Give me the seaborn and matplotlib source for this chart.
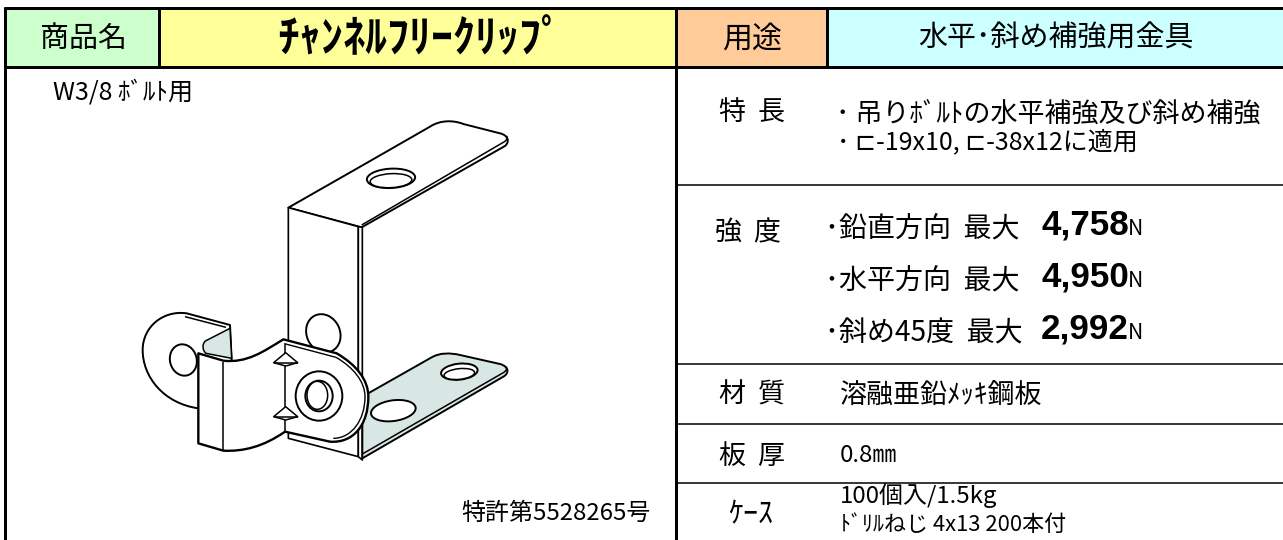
import matplotlib
matplotlib.use('Agg')
import matplotlib.pyplot as plt
import seaborn as sns
from matplotlib.patches import Rectangle, Ellipse, PathPatch
from matplotlib.path import Path

FONT = ['Noto Sans CJK JP', 'DejaVu Sans']

header_labels = ['商品名', 'ﾁｬﾝﾈﾙﾌﾘｰｸﾘｯﾌﾟ', '用途', '水平･斜め補強用金具']
header_colors = ['#CCFFCC', '#FFFF99', '#FFCC99', '#CCFFFF']
row_labels = ['特  長', '強  度', '材  質', '板  厚', 'ｹｰｽ']
feature_lines = ['･ 吊りﾎﾞﾙﾄの水平補強及び斜め補強', '･ ⊏-19x10, ⊏-38x12に適用']
strength_labels = ['･鉛直方向  最大', '･水平方向  最大', '･斜め45度  最大']
strength_values = ['4,758', '4,950', '2,992']
strength_unit = 'N'
material = '溶融亜鉛ﾒｯｷ鋼板'
thickness = '0.8㎜'
case_lines = ['100個入/1.5kg', 'ﾄﾞﾘﾙねじ 4x13 200本付']
bolt_note = 'W3/8 ﾎﾞﾙﾄ用'
patent_note = '特許第5528265号'

sns.set_theme(style='white')
plt.rcParams['font.family'] = FONT

fig = plt.figure(figsize=(12.83, 5.40), dpi=100)
ax = fig.add_axes([0, 0, 1, 1])
ax.set_xlim(0, 1283)
ax.set_ylim(540, 0)
ax.axis('off')


def label(x, y, s, px, ha='left', **kw):
    ax.text(x, y + 2, s, fontsize=px * 0.72, ha=ha, va='center', color='black', **kw)


def pt(zx, zy):
    return 120 + zx / 3, 110 + zy / 3


def shape(points, fc='white', lw=1.4, closed=True, z=3):
    # points: M/L are (x, y), curves are ('C', p1, p2, p3)
    verts, codes = [], []
    for i, p in enumerate(points):
        if p[0] == 'C':
            verts += [pt(*p[1]), pt(*p[2]), pt(*p[3])]
            codes += [Path.CURVE4] * 3
        else:
            verts.append(pt(*p))
            codes.append(Path.MOVETO if i == 0 else Path.LINETO)
    if closed:
        verts.append(verts[0])
        codes.append(Path.CLOSEPOLY)
    ax.add_patch(PathPatch(Path(verts, codes), fc=fc if closed else 'none', ec='black',
                           lw=lw, zorder=z, joinstyle='round'))


def ell(zx, zy, w, h, angle=0, fc='white', lw=1.4, z=3):
    x, y = pt(zx, zy)
    ax.add_patch(Ellipse((x, y), w / 3, h / 3, angle=angle, fc=fc, ec='black', lw=lw, zorder=z))


# header fills
edges = [5, 159, 675, 827, 1283]
for i, c in enumerate(header_colors):
    ax.add_patch(Rectangle((edges[i], 8), edges[i + 1] - edges[i], 59, fc=c, ec='none', zorder=1))

# grid
for y, lw in [(8, 3), (67, 3)]:
    ax.plot([4, 1283], [y, y], color='black', lw=lw * 0.72, zorder=2, solid_capstyle='butt')
for y in [185, 364, 424, 483]:
    ax.plot([676, 1283], [y, y], color='black', lw=1.1, zorder=2, solid_capstyle='butt')
for x, y0, y1, lw in [(5, 7, 540, 3), (159, 7, 67, 3), (676, 7, 540, 3), (827, 7, 67, 3)]:
    ax.plot([x, x], [y0, y1], color='black', lw=lw * 0.72, zorder=2, solid_capstyle='butt')

# header text
label(83, 37, header_labels[0], 29, ha='center')
label(420, 37, header_labels[1], 44, ha='center', fontweight='bold')
label(752, 37, header_labels[2], 30, ha='center')
label(1056, 37, header_labels[3], 29, ha='center')

# left cell notes
label(53, 91, bolt_note, 25)
label(461, 511, patent_note, 24)

# clip illustration, back to front
shape([(505, 293), ('C', (650, 210), (800, 125), (930, 50)), ('C', (960, 30), (1000, 30), (1030, 42)),
       (1140, 70), ('C', (1165, 76), (1170, 95), (1155, 108)), (725, 352)])
shape([(725, 345), (1150, 97), ('C', (1160, 92), (1163, 85), (1160, 78))], closed=False, lw=1.1)
ell(813, 205, 145, 58, angle=-3)
ell(813, 212, 125, 42, angle=-3, lw=1.1)
shape([(505, 293), (715, 350), (715, 1040), (505, 985)], lw=1.2)
shape([(715, 350), (727, 352), (727, 1050), (715, 1040)], lw=1.2)
shape([(727, 860), (935, 742), ('C', (960, 728), (990, 728), (1020, 735)), (1140, 762),
       ('C', (1168, 770), (1168, 790), (1150, 800)), (727, 1045)], fc='#D8E6E4')
shape([(727, 1032), (1150, 788), ('C', (1160, 782), (1162, 775), (1158, 770))], closed=False, lw=1.1)
ell(1018, 785, 110, 48, angle=-6)
ell(1018, 792, 92, 32, angle=-6, lw=1.1)
ell(820, 902, 135, 62, angle=-8)
ell(610, 670, 100, 118, angle=-25)
shape([(68, 720), ('C', (68, 650), (130, 600), (200, 610)), (330, 645), (335, 750), (235, 895),
       ('C', (130, 880), (68, 800), (68, 720))])
shape([(195, 620), (318, 652)], closed=False, lw=1.1)
ell(190, 750, 80, 95, angle=-15)
shape([(330, 655), (258, 692), ('C', (245, 700), (247, 722), (258, 730)), (335, 745)], fc='#D8E6E4', lw=1.1)
shape([(235, 730), (310, 752), ('C', (380, 760), (430, 725), (490, 688)), (650, 730),
       ('C', (710, 765), (745, 810), (745, 860)), ('C', (745, 945), (700, 1000), (630, 995)),
       (495, 965), ('C', (430, 1010), (370, 1025), (310, 1022)), (235, 1000)], lw=1.7, z=4)
shape([(497, 702), (648, 742), ('C', (700, 772), (735, 815), (735, 860)),
       ('C', (735, 930), (695, 985), (640, 985))], closed=False, lw=1.0, z=5)
shape([(310, 755), (310, 1020)], closed=False, lw=1.1, z=5)
shape([(495, 700), (495, 965)], closed=False, lw=1.1, z=5)
for zy in [750, 912]:
    shape([(497, zy - 22), (533, zy + 8), (497, zy + 18), (461, zy + 8)], z=5, lw=1.1)
    shape([(461, zy + 8), (533, zy + 8)], closed=False, z=5, lw=1.1)
ell(597, 858, 140, 148, z=5)
ell(597, 858, 82, 92, z=5)
ell(592, 856, 62, 84, z=5, lw=1.1)

# right column
row_y = [111, 231, 393, 454, 513]
row_px = [27, 27, 27, 27, 30]
row_x = [752, 748, 752, 752, 751]
for s, y, px, x in zip(row_labels, row_y, row_px, row_x):
    label(x, y, s, px, ha='center')

label(836, 112, feature_lines[0], 27)
label(837, 140, feature_lines[1], 25)

for i, y in enumerate([227, 279, 331]):
    label(825, y, strength_labels[i], 28)
    ax.text(1041, y - 2, strength_values[i], fontsize=35 * 0.72, fontweight='bold',
            family='Liberation Sans', va='center', color='black')
    label(1128, y, strength_unit, 21)

label(840, 393, material, 27)
label(840, 454, thickness, 24)
label(840, 494, case_lines[0], 24)
label(840, 523, case_lines[1], 22)

fig.savefig('out.png', dpi=100)
